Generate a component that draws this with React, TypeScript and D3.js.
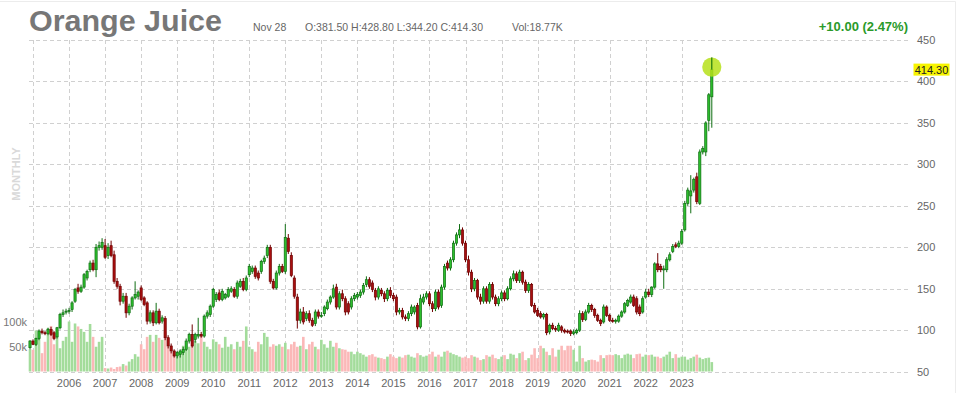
import React from "react";
import * as d3 from "d3";

// Monthly candles, Dec 2004 .. Nov 2023 (index 0 = Dec 2004)
const opens = [
  79, 87, 83, 90, 99, 97, 96, 101, 97, 92, 103, 119, 122,
  123, 125, 135, 151, 147, 152, 163, 173, 181, 173, 200, 200,
  202, 190, 202, 191, 159, 153, 135, 141, 121, 129, 139, 141,
  151, 139, 133, 111, 121, 109, 123, 111, 114, 91, 81, 75,
  69, 71, 73, 77, 87, 95, 89, 93, 95, 93, 117, 119,
  129, 137, 145, 137, 139, 141, 147, 149, 141, 153, 159, 149,
  167, 171, 175, 169, 171, 183, 190, 200, 159, 151, 169, 177,
  171, 211, 190, 163, 140, 112, 122, 114, 120, 112, 108, 122,
  118, 120, 126, 134, 140, 152, 128, 144, 138, 132, 128, 138,
  140, 142, 146, 155, 161, 157, 148, 140, 148, 144, 138, 148,
  142, 140, 122, 124, 116, 114, 120, 122, 130, 104, 134, 140,
  144, 132, 126, 146, 130, 152, 181, 175, 185, 205, 215, 221,
  205, 185, 170, 150, 160, 140, 135, 150, 135, 155, 140, 132,
  138, 145, 138, 150, 162, 168, 160, 170, 158, 148, 155, 130,
  124, 120, 116, 119, 98, 106, 102, 100, 104, 100, 99, 99,
  96, 97, 100, 120, 113, 122, 130, 125, 118, 112, 110, 128,
  118, 112, 111, 111, 117, 122, 130, 134, 140, 138, 128, 122,
  140, 146, 143, 152, 180, 177, 173, 173, 185, 195, 203, 201,
  205, 221, 253, 262, 269, 285, 253, 315, 315, 353, 381.5,
];
const highs = [
  88, 89, 91, 101, 102, 99, 103, 104, 99, 104, 121, 125, 126,
  127, 135, 151, 156, 155, 169, 173, 184, 185, 204, 207, 211,
  210, 205, 208, 196, 163, 156, 145, 145, 132, 141, 159, 148,
  154, 141, 135, 124, 124, 133, 126, 118, 117, 94, 84, 77,
  75, 77, 80, 90, 97, 107, 97, 115, 98, 119, 124, 131,
  151, 146, 149, 150, 145, 152, 153, 152, 160, 162, 163, 166,
  180, 178, 178, 172, 185, 190, 203, 203, 162, 172, 180, 180,
  228, 216, 194, 166, 144, 126, 128, 123, 124, 115, 125, 125,
  122, 130, 137, 142, 155, 156, 147, 149, 141, 135, 141, 145,
  146, 149, 157, 165, 164, 160, 151, 153, 151, 147, 151, 152,
  145, 143, 127, 127, 119, 123, 131, 130, 133, 143, 144, 147,
  147, 135, 149, 149, 155, 180, 184, 188, 208, 218, 228, 224,
  208, 190, 173, 163, 162, 144, 153, 153, 158, 158, 143, 141,
  148, 148, 153, 165, 172, 171, 173, 172, 161, 158, 157, 133,
  127, 123, 121, 121, 108, 109, 105, 109, 106, 102, 101, 101,
  101, 102, 124, 123, 125, 133, 132, 127, 120, 114, 131, 130,
  120, 115, 114, 119, 124, 134, 138, 143, 143, 141, 131, 141,
  150, 150, 153, 182, 193, 180, 178, 188, 194, 204, 206, 208,
  222, 256, 272, 287, 284, 290, 318, 322, 352, 386, 428.8,
];
const lows = [
  77, 82, 81, 88, 95, 94, 94, 93, 88, 90, 101, 116, 119,
  120, 122, 133, 144, 145, 150, 160, 170, 171, 164, 196, 197,
  186, 186, 188, 156, 150, 130, 132, 115, 118, 125, 137, 137,
  135, 129, 107, 108, 105, 107, 107, 108, 88, 78, 72, 67,
  66, 67, 70, 75, 84, 79, 85, 90, 91, 91, 114, 116,
  127, 134, 135, 135, 137, 139, 145, 139, 138, 151, 147, 147,
  164, 168, 162, 160, 168, 180, 187, 156, 149, 149, 166, 169,
  168, 192, 164, 138, 102, 108, 107, 111, 109, 104, 105, 114,
  115, 117, 124, 131, 138, 125, 125, 135, 118, 119, 125, 135,
  137, 139, 143, 152, 150, 146, 136, 137, 141, 134, 135, 139,
  135, 118, 119, 113, 111, 111, 117, 119, 101, 102, 131, 137,
  129, 122, 123, 125, 127, 149, 172, 172, 182, 202, 211, 202,
  182, 166, 146, 147, 137, 131, 132, 132, 132, 137, 129, 129,
  135, 135, 136, 148, 159, 157, 157, 155, 145, 145, 128, 120,
  116, 114, 113, 94, 95, 100, 98, 98, 97, 96, 96, 93,
  94, 95, 98, 110, 111, 120, 122, 115, 110, 105, 108, 116,
  110, 109, 108, 109, 115, 120, 128, 132, 128, 119, 117, 120,
  138, 140, 140, 150, 170, 170, 150, 170, 183, 193, 199, 199,
  203, 219, 250, 241, 266, 252, 251, 312, 310, 340, 344.2,
];
const closes = [
  87, 83, 90, 99, 97, 96, 101, 95, 90, 103, 119, 121, 123,
  124, 133, 149, 147, 152, 167, 171, 181, 173, 200, 202, 206,
  188, 200, 190, 159, 153, 135, 141, 121, 129, 139, 143, 146,
  137, 131, 111, 121, 109, 123, 109, 115, 91, 81, 75, 69,
  73, 75, 77, 87, 95, 81, 95, 95, 93, 117, 121, 129,
  149, 143, 137, 147, 143, 149, 150, 141, 157, 159, 149, 163,
  177, 175, 165, 163, 183, 187, 200, 159, 151, 169, 177, 171,
  212, 195, 166, 141, 112, 122, 110, 120, 112, 106, 122, 117,
  118, 128, 134, 140, 150, 128, 144, 138, 122, 122, 138, 142,
  143, 146, 154, 161, 153, 149, 140, 150, 144, 138, 148, 142,
  138, 122, 124, 116, 114, 120, 128, 128, 104, 138, 140, 144,
  132, 126, 146, 128, 152, 177, 175, 185, 205, 215, 221, 205,
  185, 170, 150, 160, 140, 135, 150, 135, 155, 140, 132, 138,
  145, 138, 150, 162, 168, 160, 170, 158, 148, 155, 130, 122,
  118, 116, 119, 97, 106, 102, 101, 106, 100, 98, 98, 96,
  98, 100, 120, 113, 122, 130, 125, 118, 112, 108, 128, 118,
  112, 111, 112, 117, 122, 132, 136, 140, 130, 122, 120, 138,
  146, 143, 152, 180, 173, 173, 174, 185, 191, 201, 201, 205,
  219, 253, 269, 268, 282, 255, 315, 319, 350, 384, 414.3,
];
// volume in thousands of contracts
const volumes = [
  45, 44, 83, 81, 37, 60, 88, 92, 55, 80, 47, 62, 70,
  101, 60, 97, 91, 86, 80, 60, 96, 70, 50, 60, 70,
  7, 6, 8, 5, 9, 10, 15, 12, 20, 25, 35, 30,
  55, 45, 70, 74, 60, 74, 68, 64, 81, 50, 40, 35,
  30, 40, 52, 45, 50, 52, 62, 57, 75, 60, 50, 45,
  65, 60, 55, 48, 70, 50, 55, 45, 60, 50, 62, 91,
  50, 45, 40, 60, 55, 78, 70, 50, 55, 52, 55, 50,
  58, 45, 55, 60, 50, 52, 70, 45, 55, 60, 50, 45,
  64, 55, 48, 62, 50, 58, 47, 45, 44, 40, 40, 35,
  40, 37, 34, 30, 33, 35, 30, 28, 27, 25, 30, 35,
  30, 27, 30, 28, 33, 34, 30, 28, 37, 33, 30, 32,
  35, 40, 30, 34, 30, 40, 42, 38, 35, 33, 30, 28,
  30, 27, 33, 30, 28, 23, 25, 33, 30, 34, 27, 25,
  30, 33, 25, 36, 34, 27, 37, 40, 23, 27, 34, 47,
  27, 52, 47, 40, 33, 47, 30, 44, 52, 43, 52, 52,
  44, 20, 52, 27, 20, 23, 24, 23, 20, 33, 27, 33,
  34, 33, 35, 33, 27, 34, 36, 34, 27, 35, 36, 30,
  34, 33, 34, 30, 30, 27, 30, 34, 40, 27, 35, 28,
  30, 30, 24, 27, 30, 34, 28, 25, 27, 28, 19,
];
const yearLabels = [
  "2006", "2007", "2008", "2009", "2010", "2011", "2012", "2013", "2014",
  "2015", "2016", "2017", "2018", "2019", "2020", "2021", "2022", "2023",
];
const gridYears = [2005, ...yearLabels.map(Number)];
const priceTicks = [50, 100, 150, 200, 250, 300, 350, 400, 450];
const volumeTicks = [50, 100];

const FONT = "'Liberation Sans', Arial, Helvetica, sans-serif";

export default function App() {
  const n = closes.length;
  const x = d3.scaleLinear().domain([0, n - 1]).range([30, 711.8]);
  const y = d3.scaleLinear().domain([50, 450]).range([371.7, 40]);
  const yv = d3.scaleLinear().domain([0, 100]).range([371.5, 322]);
  const monthIndex = (yr: number) => (yr - 2005) * 12 + 1;
  const idx = d3.range(n);
  const last = n - 1;

  return (
    <svg
      width={958}
      height={393}
      style={{ position: "absolute", left: 0, top: 0, background: "#fff" }}
      fontFamily={FONT}
    >
      <rect x={0} y={0} width={958} height={393} fill="#fff" />
      <line x1={0} x2={955.5} y1={1.5} y2={1.5} stroke="#ececec" />
      <line x1={955.5} x2={955.5} y1={1.5} y2={393} stroke="#ececec" />

      {/* grid */}
      {priceTicks.map((t) => (
        <line
          key={"h" + t}
          x1={29}
          x2={910}
          y1={Math.round(y(t)) + 0.5}
          y2={Math.round(y(t)) + 0.5}
          stroke="#d0d0d0"
          strokeDasharray="4,3"
        />
      ))}
      {gridYears.map((yr) => (
        <line
          key={"v" + yr}
          x1={Math.round(x(monthIndex(yr))) + 0.5}
          x2={Math.round(x(monthIndex(yr))) + 0.5}
          y1={40}
          y2={372}
          stroke="#d0d0d0"
          strokeDasharray="4,3"
        />
      ))}

      {/* volume */}
      {idx.map((i) => {
        const up = closes[i] >= opens[i];
        const top = yv(volumes[i]);
        return (
          <rect
            key={"vol" + i}
            x={x(i) - 1.3}
            y={top}
            width={2.6}
            height={yv(0) - top}
            fill={up ? "#a3dc9b" : "#fbb8b8"}
          />
        );
      })}

      {/* candles */}
      {idx.map((i) => {
        const up = closes[i] >= opens[i];
        const stroke = up ? "#0f6e12" : "#700000";
        const fill = up ? "#2dbf2d" : "#a80f0f";
        const cx = x(i);
        const yTop = y(Math.max(opens[i], closes[i]));
        const yBot = y(Math.min(opens[i], closes[i]));
        return (
          <g key={"c" + i}>
            <line x1={cx} x2={cx} y1={y(highs[i])} y2={y(lows[i])} stroke={stroke} strokeWidth={1} />
            <rect
              x={cx - 1.1}
              y={yTop}
              width={2.2}
              height={Math.max(1, yBot - yTop)}
              fill={fill}
              stroke={stroke}
              strokeWidth={0.7}
            />
          </g>
        );
      })}

      {/* last price highlight */}
      <circle cx={x(last)} cy={y(closes[last]) - 2.5} r={9.6} fill="#b6e01a" opacity={0.85} />
      <line x1={x(last)} x2={x(last)} y1={y(highs[last])} y2={y(Math.max(opens[last], closes[last]))} stroke="#0f6e12" />

      {/* price axis */}
      {priceTicks.map((t) => (
        <text key={"pt" + t} x={917} y={y(t) + 4} fontSize={11} fill="#666">
          {t}
        </text>
      ))}
      <rect x={913.5} y={y(closes[last]) - 6} width={36} height={12} fill="#f7f400" />
      <text x={931.5} y={y(closes[last]) + 4} fontSize={11} fill="#222" textAnchor="middle">
        {closes[last].toFixed(2)}
      </text>

      {/* volume axis */}
      {volumeTicks.map((t) => (
        <text key={"vt" + t} x={27} y={yv(t) + 4} fontSize={11} fill="#777" textAnchor="end">
          {t + "k"}
        </text>
      ))}

      {/* year axis */}
      {yearLabels.map((lab) => (
        <text
          key={"yl" + lab}
          x={x(monthIndex(Number(lab)))}
          y={387}
          fontSize={11}
          fill="#666"
          textAnchor="middle"
        >
          {lab}
        </text>
      ))}

      {/* MONTHLY */}
      <text
        transform="translate(19.5,174) rotate(-90)"
        fontSize={11}
        fontWeight="bold"
        fill="#d9d9d9"
        textAnchor="middle"
      >
        MONTHLY
      </text>

      {/* header */}
      <text x={29} y={31} fontSize={29} fontWeight="bold" fill="#777" textLength={193} lengthAdjust="spacingAndGlyphs">
        Orange Juice
      </text>
      <text x={253} y={31} fontSize={10.5} fill="#666">
        Nov 28
      </text>
      <text x={305} y={31} fontSize={10.5} fill="#666">
        O:381.50 H:428.80 L:344.20 C:414.30
      </text>
      <text x={512} y={31} fontSize={10.5} fill="#666">
        Vol:18.77K
      </text>
      <text x={908} y={31} fontSize={13} fontWeight="bold" fill="#2a9a2a" textAnchor="end">
        +10.00 (2.47%)
      </text>
    </svg>
  );
}
